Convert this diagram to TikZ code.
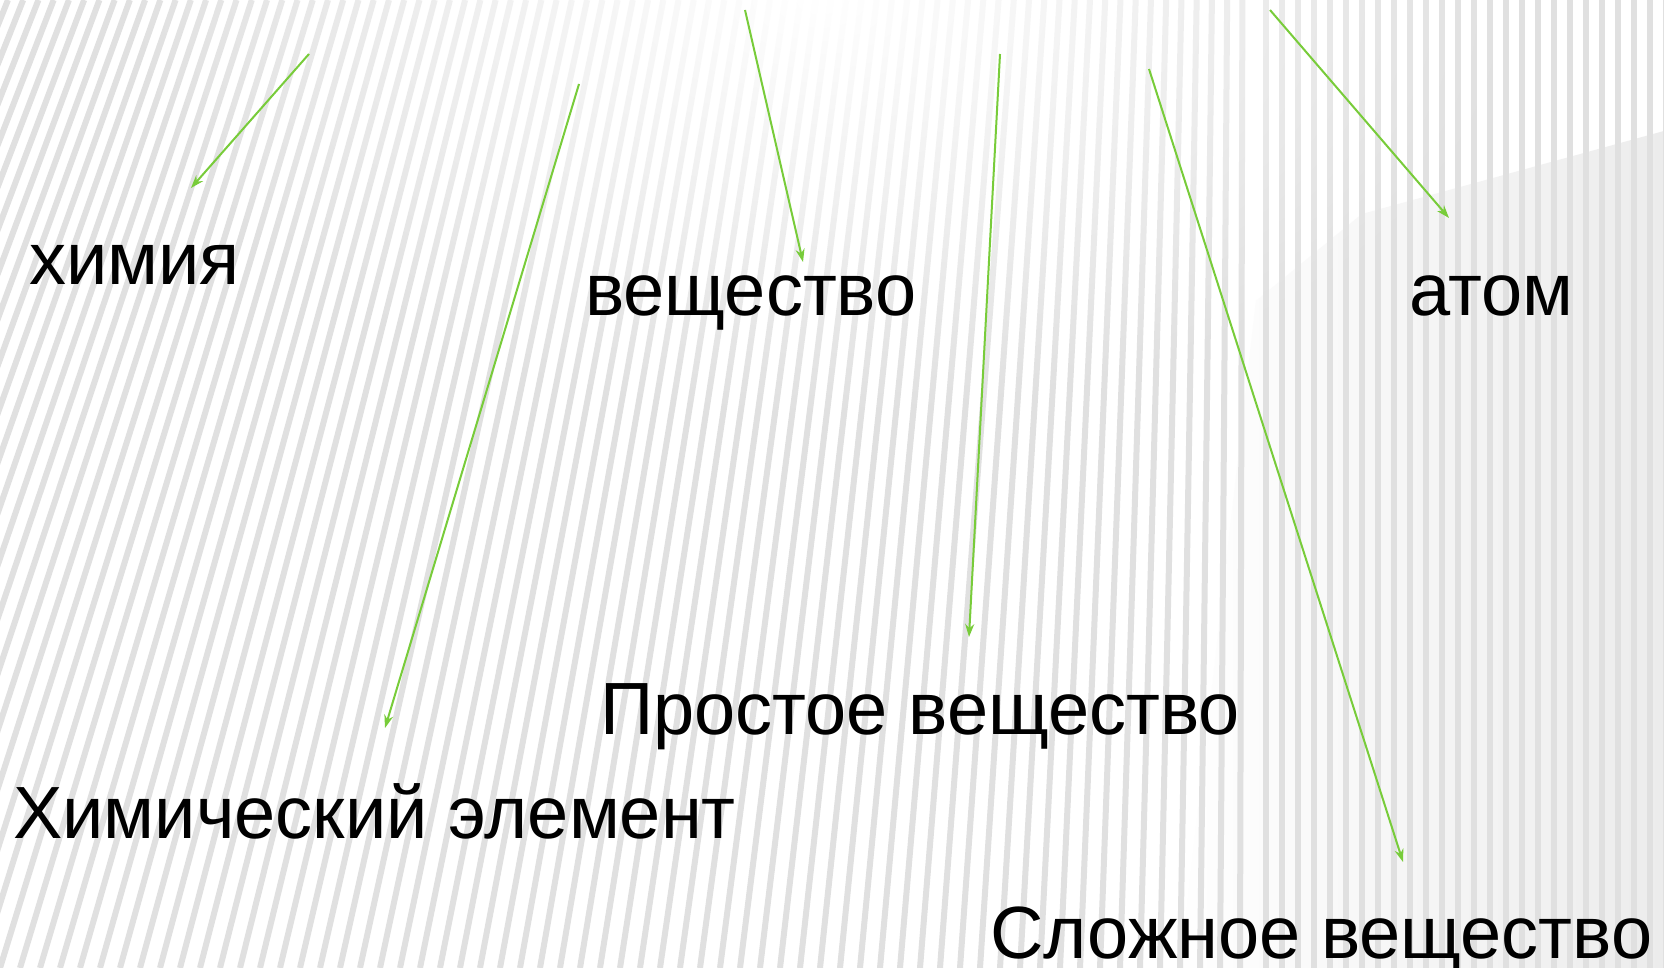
\documentclass[tikz,border=0pt]{standalone}
\usepackage{fontspec}
\setmainfont{Liberation Sans}
\usetikzlibrary{arrows.meta, fadings, positioning}

\definecolor{leafgreen}{RGB}{120,204,58}
\tikzfading[name=glow, inner color=transparent!0, outer color=transparent!100]
\tikzfading[name=shadowfade, left color=transparent!100, right color=transparent!20]

\begin{document}
\begin{tikzpicture}[x=1pt,y=-1pt,
        term/.style={anchor=base west,inner sep=0pt,font=\fontsize{74}{80}\selectfont},
        pointer/.style={draw=leafgreen,line width=2pt,-{Stealth[length=13pt,width=9pt]}},
        stripe/.style={draw=black!12,line width=6pt}]
        \useasboundingbox (0,0) rectangle (1664,968);
        \fill[white] (0,0) rectangle (1664,968);
        % grey shadow to the right
        \fill[black!9,path fading=shadowfade] (1664,130) -- (1362,213) -- (1256,300) -- (1180,968) -- (1664,968) -- cycle;
        % stripes, fanning on the left
        \foreach \i in {0,...,83} {
        \pgfmathsetmacro\xb{\i*20-420}
        \draw[stripe] (\xb,968) -- ({1250+(\xb-1250)*0.762},0);}
        \foreach \i in {0,...,26} {
        \draw[stripe] ({1266+\i*16},968) -- ({1266+\i*16},0);}
        \fill[white,path fading=glow] (820,0) ellipse [x radius=700,y radius=420];

        \node[term] (chem) at (29,284) {химия};
        \node[term] (subst) at (585,315) {вещество};
        \node[term] (atom) at (1409,315) {атом};
        \node[term] (simple) at (600,734) {Простое вещество};
        \node[term] (elem) at (13,838) {Химический элемент};
        \node[term] (compl) at (990,958) {Сложное вещество};

        \coordinate (a1) at (309,54);   \coordinate (b1) at (191,188);
        \coordinate (a2) at (579,84);   \coordinate (b2) at (385,728);
        \coordinate (a3) at (745,10);   \coordinate (b3) at (803,262);
        \coordinate (a4) at (1000,54);  \coordinate (b4) at (969,637);
        \coordinate (a5) at (1149,69);  \coordinate (b5) at (1403,862);
        \coordinate (a6) at (1270,10);  \coordinate (b6) at (1449,218);

        \foreach \s/\t in {a1/b1, a2/b2, a3/b3, a4/b4, a5/b5, a6/b6} {
        \path[pointer] (\s) -- (\t);}
\end{tikzpicture}
\end{document}
